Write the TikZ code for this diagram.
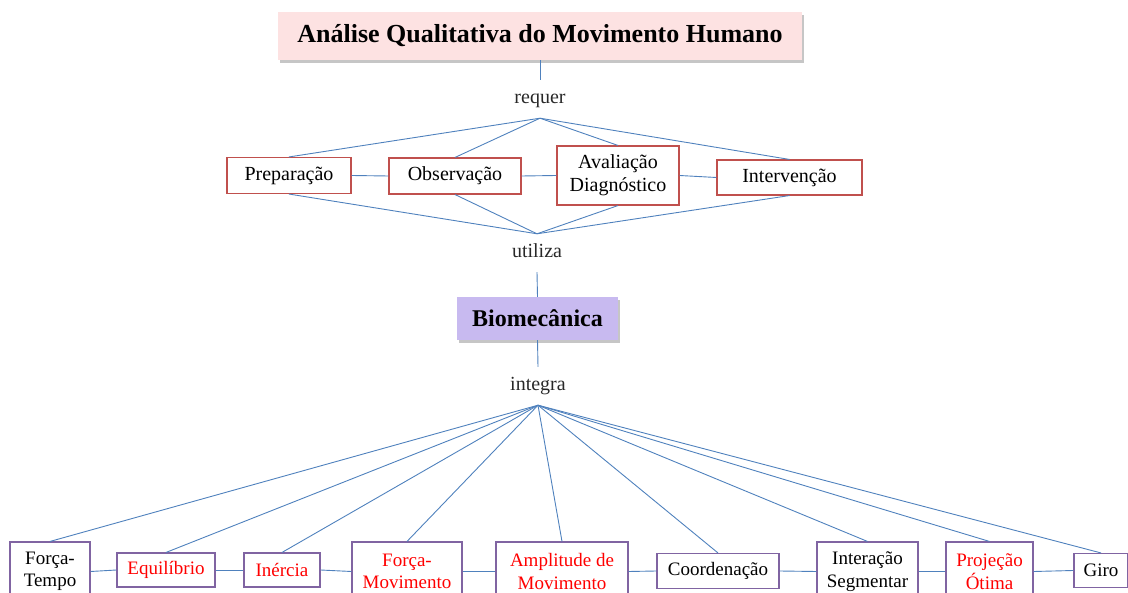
\documentclass[tikz,border=0pt]{standalone}
\usepackage{fontspec}
\setmainfont{Liberation Serif}
\usetikzlibrary{shadows}

\definecolor{linkblue}{RGB}{79,129,189}
\definecolor{stepred}{RGB}{192,80,77}
\definecolor{toolpurple}{RGB}{128,100,162}
\definecolor{titlepink}{RGB}{253,226,226}
\definecolor{biolilac}{RGB}{200,186,240}
\definecolor{verbgray}{RGB}{40,40,40}

\tikzset{
  link/.style={draw=linkblue, line width=0.9pt},
  headbox/.style={inner sep=0pt, align=center,
    drop shadow={shadow xshift=1.5pt, shadow yshift=-3pt, fill=black!50, opacity=0.45}},
  stepbox/.style={draw=stepred, line width=1.1pt, fill=white, inner sep=0pt, align=center,
    font=\fontsize{20}{23}\selectfont},
  toolbox/.style={draw=toolpurple, line width=1.1pt, fill=white, inner sep=0pt, align=center,
    font=\fontsize{19}{22.5}\selectfont},
  verb/.style={inner sep=0pt, minimum height=38pt, text height=9pt, text depth=0pt,
    text=verbgray, font=\fontsize{20}{23}\selectfont},
  redtext/.style={text=red}
}

\begin{document}
\begin{tikzpicture}[x=1pt, y=-1pt]

\useasboundingbox (0,0) rectangle (1128,593);
\clip (0,0) rectangle (1128,593);

\node[headbox, fill=titlepink, minimum width=524, minimum height=48,
  font=\fontsize{26}{30}\selectfont\bfseries] (analise) at (540,36) {Análise Qualitativa do Movimento Humano};

\node[verb] (requer) at (540,99) {requer};

\node[stepbox, minimum width=124, minimum height=36] (prep) at (289,175.5) {Preparação};
\node[stepbox, minimum width=132, minimum height=36] (obs) at (455,176) {Observação};
\node[stepbox, minimum width=122, minimum height=59] (aval) at (618,175.5) {Avaliação\\Diagnóstico};
\node[stepbox, minimum width=145, minimum height=35] (interv) at (789.5,177.5) {Intervenção};

\node[verb] (utiliza) at (537,253) {utiliza};

\node[headbox, fill=biolilac, minimum width=161, minimum height=43,
  font=\fontsize{24}{28}\selectfont\bfseries] (bio) at (537.5,318.5) {Biomecânica};

\node[verb] (integra) at (538,386) {integra};

\node[toolbox, minimum width=80, minimum height=59] (ft) at (50,571.5) {Força-\\Tempo};
\node[toolbox, redtext, minimum width=98, minimum height=34] (eq) at (166,570) {Equilíbrio};
\node[toolbox, redtext, minimum width=76, minimum height=34] (inercia) at (282,570) {Inércia};
\node[toolbox, redtext, minimum width=110, minimum height=59] (fm) at (407,571.5) {Força-\\Movimento};
\node[toolbox, redtext, minimum width=132, minimum height=59] (am) at (562,571.5) {Amplitude de\\Movimento};
\node[toolbox, minimum width=122, minimum height=35] (coord) at (718,571) {Coordenação};
\node[toolbox, minimum width=101, minimum height=59] (inter) at (867.5,571.5) {Interação\\Segmentar};
\node[toolbox, redtext, minimum width=87, minimum height=59] (proj) at (989.5,571.5) {Projeção\\Ótima};
\node[toolbox, minimum width=54, minimum height=34] (giro) at (1101,570.5) {Giro};

\draw[link] (analise.south) -- (requer.north);
\foreach \s in {prep, obs, aval, interv} {
\draw[link] (requer.south) -- (\s.north);
\draw[link] (\s.south) -- (utiliza.north);
}
\foreach \a/\b in {prep/obs, obs/aval, aval/interv}
\draw[link] (\a.east) -- (\b.west);

\draw[link] (utiliza.south) -- (bio.north);
\draw[link] (bio.south) -- (integra.north);

\foreach \s in {ft, eq, inercia, fm, am, coord, inter, proj, giro}
\draw[link] (integra.south) -- (\s.north);
\foreach \a/\b in {ft/eq, eq/inercia, inercia/fm, fm/am, am/coord, coord/inter, inter/proj, proj/giro}
\draw[link] (\a.east) -- (\b.west);

\end{tikzpicture}
\end{document}
